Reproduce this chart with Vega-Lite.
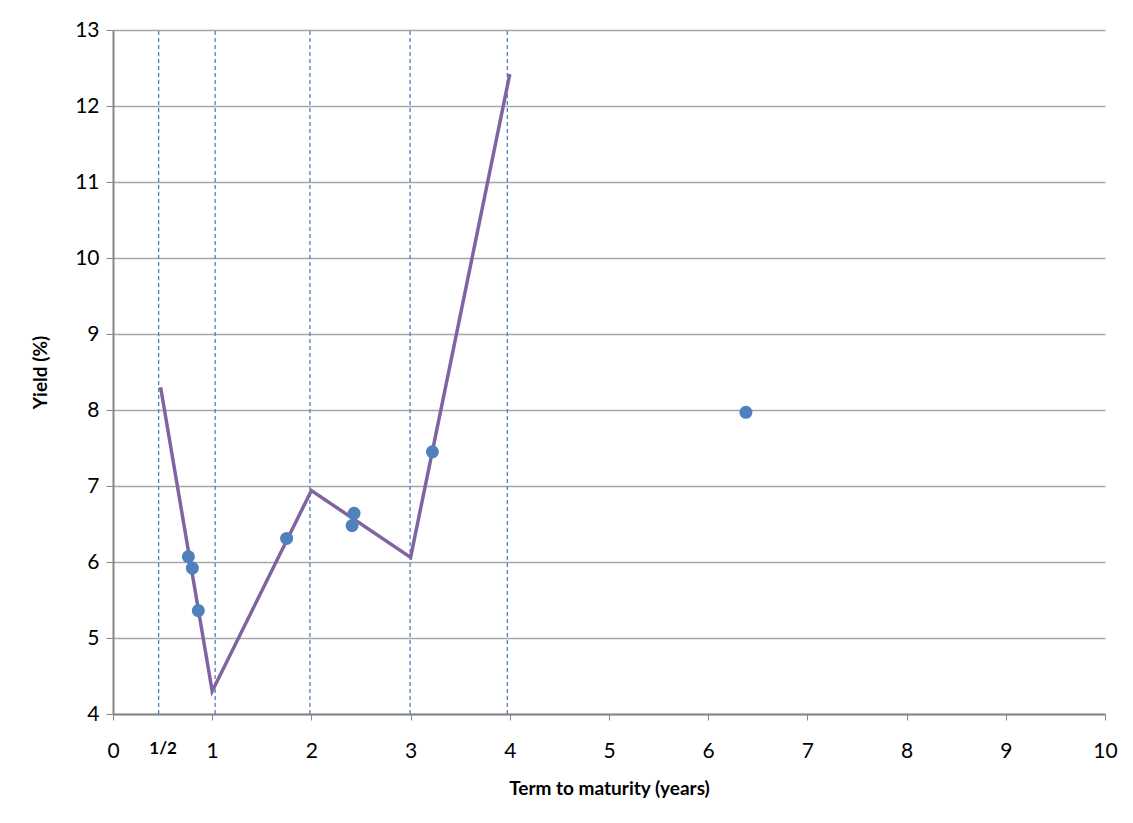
{
  "$schema": "https://vega.github.io/schema/vega-lite/v6.json",
  "autosize": {"type": "none"},
  "width": 992,
  "height": 684,
  "padding": {"left": 113, "top": 30, "right": 28, "bottom": 109},
  "background": "white",
  "config": {
    "view": {"stroke": null},
    "font": "Lato",
    "axis": {"labelFont": "Lato", "titleFont": "Lato", "labelColor": "#000", "titleColor": "#000"}
  },
  "datasets": {
    "curve": [
      {"term": 0.48, "yield": 8.3},
      {"term": 1.0, "yield": 4.3},
      {"term": 2.0, "yield": 6.94},
      {"term": 3.0, "yield": 6.06},
      {"term": 4.0, "yield": 12.42}
    ],
    "bonds": [
      {"term": 0.76, "yield": 6.07},
      {"term": 0.8, "yield": 5.92},
      {"term": 0.86, "yield": 5.36},
      {"term": 1.75, "yield": 6.31},
      {"term": 2.43, "yield": 6.64},
      {"term": 2.41, "yield": 6.48},
      {"term": 3.22, "yield": 7.45},
      {"term": 6.38, "yield": 7.97}
    ],
    "guides": [
      {"term": 0.46, "lo": 4, "hi": 13},
      {"term": 1.03, "lo": 4, "hi": 13},
      {"term": 1.985, "lo": 4, "hi": 13},
      {"term": 2.995, "lo": 4, "hi": 13},
      {"term": 3.975, "lo": 4, "hi": 13}
    ]
  },
  "layer": [
    {
      "data": {"name": "guides"},
      "mark": {"type": "rule", "color": "#4f81bd", "strokeWidth": 1.3, "strokeDash": [4, 3]},
      "encoding": {
        "x": {
          "field": "term", "type": "quantitative",
          "scale": {"domain": [0, 10], "nice": false},
          "axis": {
            "values": [0, 0.5, 1, 2, 3, 4, 5, 6, 7, 8, 9, 10],
            "labelExpr": "datum.value == 0.5 ? '1/2' : format(datum.value, 'd')",
            "labelFontWeight": {"condition": {"test": "datum.value == 0.5", "value": "bold"}, "value": "normal"},
            "labelFontSize": {"condition": {"test": "datum.value == 0.5", "value": 17}, "value": 21},
            "tickOpacity": {"condition": {"test": "datum.value == 0.5", "value": 0}, "value": 1},
            "labelFlush": false,
            "labelOverlap": false,
            "grid": false,
            "domainColor": "#868686",
            "domainWidth": 2,
            "tickColor": "#868686",
            "tickSize": 6,
            "labelPadding": 20,
            "title": "Term to maturity (years)",
            "titleFontSize": 19,
            "titleFontWeight": "bold",
            "titlePadding": 18
          }
        },
        "y": {
          "field": "lo", "type": "quantitative",
          "scale": {"domain": [4, 13], "nice": false, "zero": false},
          "axis": {
            "values": [4, 5, 6, 7, 8, 9, 10, 11, 12, 13],
            "format": "d",
            "grid": true,
            "gridColor": "#a6a6a6",
            "gridWidth": 1.5,
            "domainColor": "#868686",
            "domainWidth": 2,
            "tickColor": "#868686",
            "tickSize": 7,
            "labelFontSize": 21,
            "labelPadding": 7,
            "title": "Yield (%)",
            "titleFontSize": 19,
            "titleFontWeight": "bold",
            "titlePadding": 24
          }
        },
        "y2": {"field": "hi"}
      }
    },
    {
      "data": {"name": "curve"},
      "mark": {"type": "line", "color": "#8064a2", "strokeWidth": 3.5},
      "encoding": {
        "x": {"field": "term", "type": "quantitative"},
        "y": {"field": "yield", "type": "quantitative"}
      }
    },
    {
      "data": {"name": "bonds"},
      "mark": {"type": "point", "filled": true, "shape": "circle", "color": "#4f81bd", "opacity": 1, "size": 170},
      "encoding": {
        "x": {"field": "term", "type": "quantitative"},
        "y": {"field": "yield", "type": "quantitative"}
      }
    }
  ]
}
